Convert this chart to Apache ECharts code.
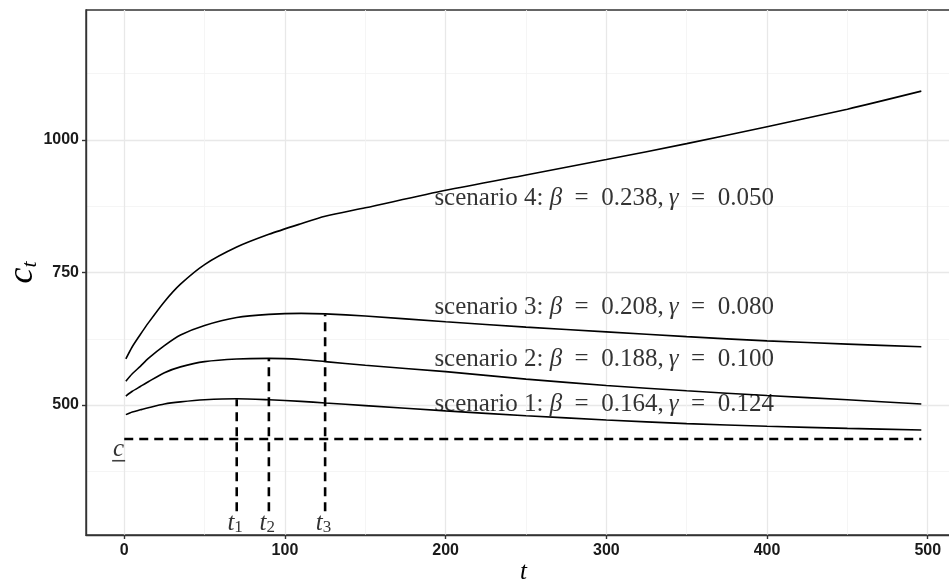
<!DOCTYPE html>
<html>
<head>
<meta charset="utf-8">
<script src="https://cdn.jsdelivr.net/npm/echarts@6/dist/echarts.min.js"></script>
<style>
html, body { margin: 0; padding: 0; background: #fff; }
#chart { width: 949px; height: 582px; }
</style>
</head>
<body>
<div id="chart"></div>
<script>
// time points
const tPoints = [1, 5, 10, 15, 25, 35, 50, 70, 90, 110, 125, 150, 200, 250, 300, 350, 400, 450, 496];
const scenario1 = [482, 487, 491, 495, 502, 506, 510, 512, 510, 507, 504, 499, 489, 480, 472, 465, 460, 456, 453];
const scenario2 = [517, 526, 535, 544, 561, 572, 582, 587, 588, 586, 582, 575, 563, 549, 537, 527, 518, 510, 502];
const scenario3 = [545, 559, 573, 588, 612, 632, 650, 665, 671, 673, 672, 668, 657, 647, 638, 629, 621, 615, 610];
const scenario4 = [587, 610, 633, 655, 695, 728, 765, 798, 822, 842, 856, 872, 905, 934, 963, 993, 1025, 1058, 1092];

const cLower = 436;
const cLineEnd = 496;
const peakT = [70, 90, 125];
const peakC = [511, 587, 671];
const dropFloor = 300;
const peakNames = ['1', '2', '3'];

const scenarioNames = ['scenario 1:', 'scenario 2:', 'scenario 3:', 'scenario 4:'];
const betas = ['0.164', '0.188', '0.208', '0.238'];
const gammas = ['0.124', '0.100', '0.080', '0.050'];
const labelT = 193;
const labelC = [502, 587, 685, 890];

const xTicks = [0, 100, 200, 300, 400, 500];
const xMinor = [50, 150, 250, 350, 450];
const yTicks = [500, 750, 1000];
const yMinor = [375, 625, 875, 1125];

const X_MIN = -23.8, X_MAX = 520.7, Y_MIN = 255, Y_MAX = 1245;

const chart = echarts.init(document.getElementById('chart'));

const serif = 'Liberation Serif';
const tickFont = { fontFamily: 'Liberation Sans', fontWeight: 'bold', fontSize: 16, color: '#1a1a1a' };
const EN = '\u2002';

function curve(values) {
    return {
        type: 'line',
        data: tPoints.map((t, i) => [t, values[i]]),
        smooth: 0.25,
        symbol: 'none',
        lineStyle: { color: '#000', width: 1.6 },
        z: 3
    };
}

function dashed(data) {
    return {
        type: 'line',
        data: data,
        symbol: 'none',
        lineStyle: { color: '#000', width: 2.6, type: [9, 6] },
        z: 4
    };
}

const series = [
    curve(scenario1), curve(scenario2), curve(scenario3), curve(scenario4),
    dashed([[0, cLower], [cLineEnd, cLower]])
];
peakT.forEach((t, i) => series.push(dashed([[t, dropFloor], [t, peakC[i]]])));

series.push({
    type: 'scatter',
    symbolSize: 0,
    data: labelC.map(c => [labelT, c]),
    label: {
        show: true,
        position: 'right',
        distance: 0,
        formatter: p => {
            const i = p.dataIndex;
            return '{n|' + scenarioNames[i] + ' }{g|β}{n|' + EN + '=' + EN + betas[i] + ',\u2009}{g|γ}{n|' + EN + '=' + EN + gammas[i] + '}';
        },
        rich: {
            n: { fontFamily: serif, fontSize: 25, color: '#000' },
            g: { fontFamily: serif, fontSize: 25, fontStyle: 'italic', color: '#000' }
        }
    },
    z: 5
});

// t_i labels under the drop lines
series.push({
    type: 'scatter',
    symbolSize: 0,
    data: peakT.map(t => [t - 1, 277]),
    label: {
        show: true,
        position: 'inside',
        formatter: p => '{t|t}{s|' + peakNames[p.dataIndex] + '}',
        rich: {
            t: { fontFamily: serif, fontStyle: 'italic', fontSize: 25, color: '#000', lineHeight: 26 },
            s: { fontFamily: serif, fontSize: 17, color: '#000', verticalAlign: 'bottom', lineHeight: 14 }
        }
    },
    z: 5
});

// underlined c: the lower bound
series.push({
    type: 'scatter',
    symbolSize: 0,
    data: [[-3.5, 412]],
    label: {
        show: true,
        position: 'inside',
        formatter: '{c|c}\n{u| }',
        rich: {
            c: { fontFamily: serif, fontStyle: 'italic', fontSize: 25, color: '#000', lineHeight: 18, align: 'center' },
            u: { fontSize: 1, width: 13, height: 1.6, lineHeight: 4, backgroundColor: '#111', align: 'center' }
        }
    },
    z: 5
});

chart.setOption({
    animation: false,
    backgroundColor: '#fff',
    grid: {
        left: 86, top: 10, width: 875, height: 525,
        containLabel: false, outerBoundsMode: 'none',
        show: true, borderColor: '#333', borderWidth: 1.4, backgroundColor: 'transparent'
    },
    xAxis: [{
        type: 'value', min: X_MIN, max: X_MAX,
        name: 't', nameLocation: 'middle', nameGap: 25, nameMoveOverlap: false,
        nameTextStyle: { fontFamily: serif, fontStyle: 'italic', fontSize: 25, color: '#000' },
        axisLine: { show: true, onZero: false, lineStyle: { color: '#333', width: 1.4 } },
        axisTick: { show: true, length: 4, customValues: xTicks, lineStyle: { color: '#333', width: 1.4 } },
        axisLabel: { customValues: xTicks, margin: 8, formatter: v => String(v), ...tickFont },
        splitLine: { show: true, lineStyle: { color: '#e8e8e8', width: 1.3 } }
    }, {
        type: 'value', min: X_MIN, max: X_MAX, position: 'bottom',
        axisLine: { show: false },
        axisTick: { show: false, customValues: xMinor },
        axisLabel: { show: false, customValues: xMinor },
        splitLine: { show: true, lineStyle: { color: '#f2f2f2', width: 0.8 } }
    }],
    yAxis: [{
        type: 'value', min: Y_MIN, max: Y_MAX,
        name: '{c|c}{t|t}', nameLocation: 'middle', nameGap: 45, nameRotate: 90, nameMoveOverlap: false,
        nameTextStyle: {
            rich: {
                c: { fontFamily: serif, fontStyle: 'italic', fontSize: 36, color: '#000', lineHeight: 36 },
                t: { fontFamily: serif, fontStyle: 'italic', fontSize: 22, color: '#000', verticalAlign: 'bottom', lineHeight: 20 }
            }
        },
        axisLine: { show: true, onZero: false, lineStyle: { color: '#333', width: 1.4 } },
        axisTick: { show: true, length: 4, customValues: yTicks, lineStyle: { color: '#333', width: 1.4 } },
        axisLabel: { customValues: yTicks, margin: 7, formatter: v => String(v), ...tickFont },
        splitLine: { show: true, lineStyle: { color: '#e8e8e8', width: 1.3 } }
    }, {
        type: 'value', min: Y_MIN, max: Y_MAX, position: 'left',
        axisLine: { show: false },
        axisTick: { show: false, customValues: yMinor },
        axisLabel: { show: false, customValues: yMinor },
        splitLine: { show: true, lineStyle: { color: '#f2f2f2', width: 0.8 } }
    }],
    series: series
});
</script>
</body>
</html>
